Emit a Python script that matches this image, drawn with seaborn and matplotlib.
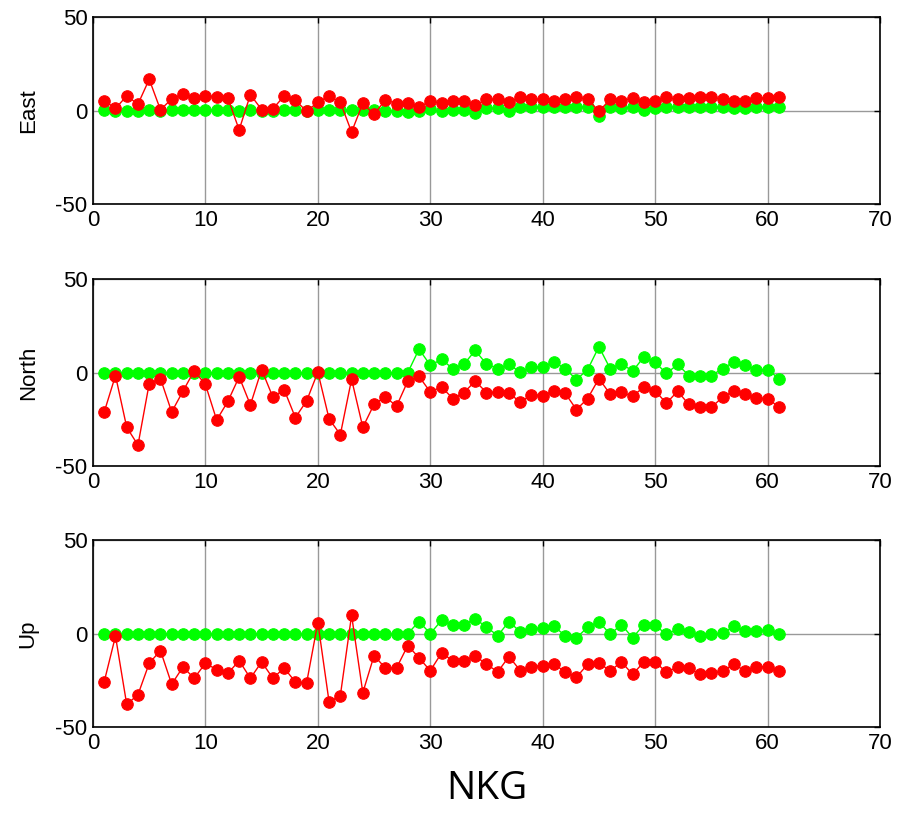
import numpy as np
import seaborn as sns
import matplotlib.pyplot as plt

# Station index (1..61)
stations = list(range(1, 62))

# East component
east_red = [5.3, 1.1, 7.8, 3.4, 16.7, 0.4, 6.2, 8.9, 6.6, 8.0,
            7.3, 6.6, -10.3, 8.5, 0.5, 0.9, 7.8, 5.5, -0.4, 4.4,
            7.8, 4.4, -11.5, 3.9, -2.1, 5.7, 3.7, 3.9, 1.8, 5.1,
            3.9, 5.3, 5.3, 2.8, 5.9, 5.9, 4.4, 7.3, 6.0, 6.0,
            5.3, 6.0, 7.3, 6.0, -0.4, 5.9, 5.1, 6.6, 4.6, 5.3,
            7.1, 5.9, 6.6, 7.3, 7.3, 5.9, 5.1, 5.1, 6.6, 6.6, 7.3]
east_green = [0.4, 0.0, -0.5, 0.0, 0.4, -0.4, 0.4, 0.4, 0.4, 0.4,
              0.4, 0.4, -0.5, 0.4, 0.0, -0.5, 0.4, 0.4, -0.4, 0.4,
              0.4, 0.4, 0.4, 0.4, 0.4, 0.0, -0.5, -0.9, 0.0, 0.7,
              -0.5, 0.4, 0.4, -1.2, 1.1, 1.1, -0.4, 2.1, 1.8, 1.8,
              1.8, 1.8, 1.8, 1.8, -2.8, 1.8, 1.1, 1.8, 0.4, 1.1,
              1.8, 1.8, 1.8, 1.8, 1.8, 1.8, 1.1, 1.1, 1.8, 1.8, 1.8]

# North component
north_red = [-21.1, -1.6, -29.3, -38.8, -5.9, -3.2, -21.1, -10.0, 0.9, -6.4,
             -25.4, -15.4, -2.3, -17.3, 1.6, -13.2, -9.1, -24.1, -15.2, 0.2,
             -24.8, -33.2, -3.6, -29.3, -17.0, -13.0, -18.0, -4.6, -2.1, -10.4,
             -7.7, -13.9, -10.7, -4.6, -10.7, -10.4, -10.9, -15.9, -11.8, -12.3,
             -9.8, -11.1, -19.8, -13.9, -3.2, -11.6, -10.5, -12.7, -7.7, -9.8,
             -16.4, -10.0, -17.1, -18.6, -18.6, -13.2, -9.8, -11.6, -13.8, -13.9, -18.4]
north_green = [0.0] * 28 + [
    12.5, 3.9, 7.0, 2.1, 4.5, 11.8, 4.5, 2.1, 4.3, 0.2,
    3.0, 3.0, 5.7, 2.1, -3.8, 1.6, 13.8, 2.1, 4.8, 0.7,
    8.4, 5.5, -0.5, 4.3, -1.6, -1.6, -1.6, 2.1, 5.7, 3.8,
    1.6, 1.6, -3.2]

# Up component
up_red = [-25.7, -1.4, -37.9, -32.7, -15.9, -9.1, -27.1, -17.9, -23.9, -15.9,
          -19.3, -21.3, -14.5, -23.9, -15.2, -23.9, -18.4, -25.9, -26.4, 5.9,
          -36.6, -33.2, 9.8, -31.6, -11.8, -18.4, -18.4, -6.4, -13.0, -19.9,
          -10.4, -14.5, -14.5, -12.0, -16.4, -20.5, -12.3, -19.8, -17.7, -17.1,
          -16.4, -20.5, -23.4, -16.4, -15.7, -20.0, -15.2, -21.8, -15.2, -15.2,
          -20.7, -17.9, -18.6, -21.8, -21.3, -20.0, -16.4, -20.0, -17.7, -17.7, -20.0]
up_green = [0.0] * 28 + [
    6.4, 0.0, 7.0, 4.3, 4.8, 7.9, 3.4, -1.1, 6.4, 0.9,
    2.3, 3.2, 3.8, -1.1, -2.3, 3.4, 6.4, -0.4, 4.8, -2.3,
    4.8, 4.5, -0.5, 2.3, 0.9, -1.1, -0.5, 0.2, 3.8, 1.1,
    1.6, 1.8, -0.5]

panel_names = ["East", "North", "Up"]
red_series = [east_red, north_red, up_red]
green_series = [east_green, north_green, up_green]

sns.set_style("white")
plt.rcParams['font.family'] = ['Liberation Sans', 'DejaVu Sans']
plt.rcParams['axes.unicode_minus'] = False
plt.rcParams['text.color'] = 'black'
plt.rcParams['axes.labelcolor'] = 'black'

fig = plt.figure(figsize=(9.02, 8.19), dpi=100)

# axes rectangles (left, bottom, width, height) in figure fractions
boxes = [
    [0.1031, 0.7509, 0.8725, 0.2283],
    [0.1031, 0.4310, 0.8725, 0.2283],
    [0.1031, 0.1123, 0.8725, 0.2283],
]

for name, red, green, box in zip(panel_names, red_series, green_series, boxes):
    ax = fig.add_axes(box)
    sns.lineplot(x=stations, y=green, ax=ax, color="#00ff00", marker="o",
                 markersize=8.3, markeredgecolor="#00ff00", linewidth=1,
                 zorder=3)
    sns.lineplot(x=stations, y=red, ax=ax, color="#ff0000", marker="o",
                 markersize=8.3, markeredgecolor="#ff0000", linewidth=1,
                 zorder=4)
    ax.set_xlim(0, 70)
    ax.set_ylim(-50, 50)
    ax.set_xticks(np.arange(0, 71, 10))
    ax.set_yticks([-50, 0, 50])
    ax.grid(True, color="0.6", linewidth=1)
    ax.set_axisbelow(True)
    ax.tick_params(direction="in", length=4, width=1, labelsize=16,
                   top=True, right=True, pad=4, colors="black")
    for sp in ax.spines.values():
        sp.set_color("black")
        sp.set_linewidth(1.2)
    ax.set_ylabel(name, fontsize=16, labelpad=12, color="black")

ax.set_xlabel("NKG", fontsize=28, family=['Open Sans', 'DejaVu Sans'],
              labelpad=12, color="black")

plt.savefig("out.png", dpi=100)
